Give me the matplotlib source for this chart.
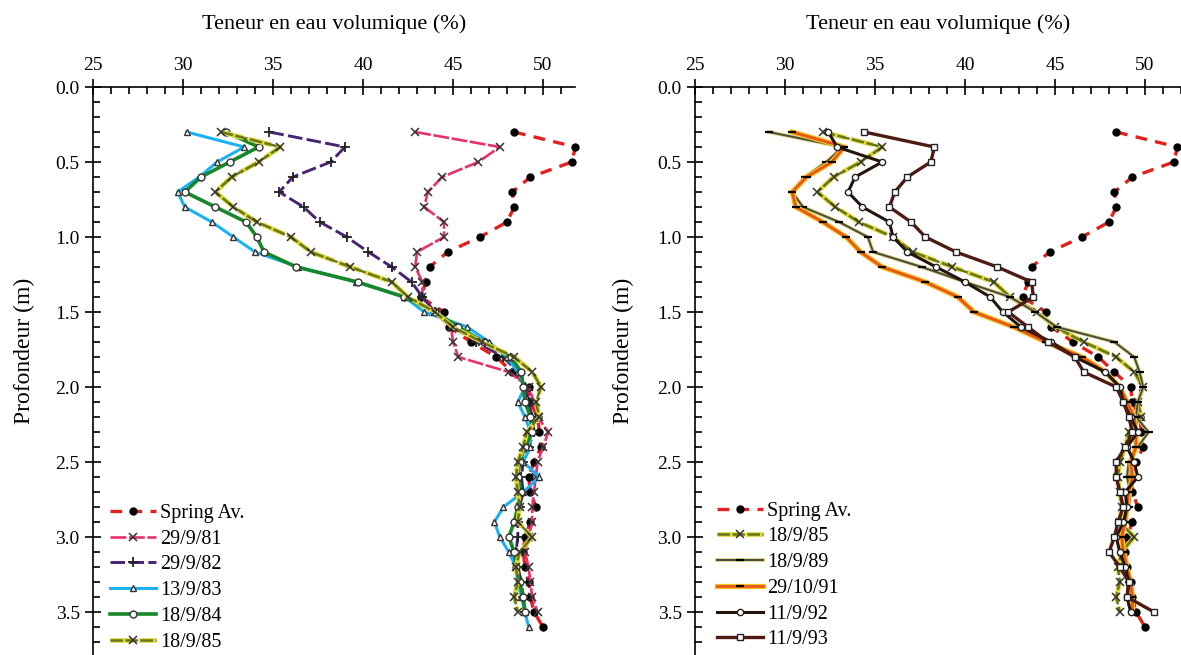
import numpy as np
import matplotlib
matplotlib.use("Agg")
import matplotlib.pyplot as plt
from matplotlib.ticker import MultipleLocator, FormatStrFormatter
from matplotlib.legend_handler import HandlerTuple

plt.rcParams['font.family'] = ['Liberation Serif', 'DejaVu Serif']

# depths (m)
depth = [round(0.3 + 0.1 * i, 1) for i in range(33)]       # 0.3 .. 3.5
depth_long = [round(0.3 + 0.1 * i, 1) for i in range(34)]  # 0.3 .. 3.6

# volumetric water content (%)
spring_av = [48.4, 51.8, 51.6, 49.3, 48.3, 48.4, 48.0, 46.5, 44.7, 43.7,
             43.5, 43.2, 44.5, 44.8, 46.0, 47.4, 48.3, 49.2, 49.3, 49.7,
             49.8, 49.9, 49.5, 49.2, 49.3, 49.6, 49.3, 49.0, 48.9, 49.0,
             49.2, 49.3, 49.5, 50.0]
d_81 = [42.9, 47.6, 46.4, 44.4, 43.6, 43.4, 44.5, 44.5, 43.0, 42.9,
        43.3, 43.3, 43.9, 44.9, 45.0, 45.3, 48.1, 49.2, 49.5, 49.7,
        50.3, 50.0, 49.7, 49.6, 49.5, 49.4, 49.4, 49.2, 49.0, 49.2,
        49.3, 49.4, 49.7]
d_82 = [34.8, 39.0, 38.2, 36.1, 35.35, 36.7, 37.6, 39.1, 40.3, 41.6,
        42.7, 43.3, 44.0, 45.0, 46.3, 47.8, 48.6, 49.0, 49.2, 49.4,
        49.5, 49.2, 48.9, 48.8, 48.9, 48.7, 48.6, 48.6, 48.5, 48.6,
        48.8, 48.9, 49.0]
d_83 = [30.2, 33.4, 31.9, 30.9, 29.7, 30.1, 31.6, 32.8, 34.0, 36.4,
        39.6, 42.3, 43.4, 45.8, 47.0, 48.0, 48.6, 49.0, 48.6, 49.0,
        49.3, 49.3, 48.9, 49.8, 48.9, 47.8, 47.3, 47.6, 48.1, 48.5,
        48.6, 48.8, 49.0, 49.2]
d_84 = [32.4, 34.2, 32.6, 31.0, 30.1, 31.8, 33.5, 34.1, 34.5, 36.3,
        39.7, 42.3, 44.0, 45.3, 46.7, 48.2, 48.8, 48.9, 49.0, 49.3,
        49.4, 49.0, 48.7, 48.6, 48.8, 48.6, 48.4, 48.1, 48.4, 48.5,
        48.7, 48.9, 49.0]
d_85 = [32.1, 35.4, 34.2, 32.7, 31.8, 32.8, 34.1, 36.0, 37.1, 39.3,
        41.6, 42.5, 44.0, 45.0, 46.6, 48.4, 49.4, 49.9, 49.6, 49.8,
        49.1, 48.9, 48.6, 48.5, 48.6, 48.7, 48.6, 49.4, 48.7, 48.5,
        48.6, 48.4, 48.6]
d_89 = [29.1, 33.2, 32.3, 31.1, 30.4, 31.0, 33.0, 34.6, 34.9, 37.6,
        40.0, 42.5, 43.9, 45.1, 48.3, 49.4, 49.7, 49.9, 49.6, 49.5,
        50.2, 49.6, 49.1, 49.0, 49.2, 49.1, 48.8, 48.7, 48.9, 49.0,
        49.1, 49.2, 49.3]
d_91 = [30.4, 33.3, 32.6, 31.2, 30.4, 30.6, 32.1, 33.4, 34.2, 35.4,
        37.8, 39.6, 40.5, 42.7, 44.5, 46.5, 47.8, 48.6, 49.0, 49.4,
        49.5, 49.5, 49.2, 49.3, 49.1, 49.0, 48.9, 48.7, 48.8, 49.0,
        49.2, 49.3, 49.3]
d_92 = [32.4, 32.9, 35.4, 33.9, 33.5, 34.3, 35.8, 36.0, 36.8, 38.4,
        40.0, 41.4, 42.1, 43.1, 44.8, 46.1, 47.8, 48.6, 48.8, 49.2,
        49.6, 49.0, 49.4, 49.6, 48.9, 49.0, 48.8, 48.4, 48.6, 48.9,
        49.1, 49.0, 49.2]
d_93 = [34.4, 38.3, 38.1, 36.8, 36.1, 35.8, 37.0, 37.8, 39.5, 41.8,
        43.7, 43.8, 42.4, 43.5, 44.6, 46.1, 46.6, 48.4, 48.8, 49.1,
        49.3, 48.9, 48.4, 48.4, 48.6, 48.8, 48.5, 48.3, 48.0, 48.6,
        49.1, 49.0, 50.5]

W, H = 1181, 655
fig = plt.figure(figsize=(W / 100, H / 100), dpi=100)

ax_top = 87
ax_h = H - ax_top
px_per_m = 150
px_per_unit = 18.0


def setup_axis(ax, left_px, right_px, label_x):
    ax.set_xlim(25, 25 + (right_px - left_px) / px_per_unit)
    ax.set_ylim(ax_h / px_per_m, 0)
    ax.xaxis.tick_top()
    ax.xaxis.set_label_position('top')
    ax.xaxis.set_major_locator(MultipleLocator(5))
    ax.xaxis.set_minor_locator(MultipleLocator(1))
    ax.yaxis.set_major_locator(MultipleLocator(0.5))
    ax.yaxis.set_minor_locator(MultipleLocator(0.1))
    ax.yaxis.set_major_formatter(FormatStrFormatter('%.1f'))
    ax.tick_params(which='major', direction='inout', length=11, width=1.2,
                   labelsize=14, pad=4)
    ax.tick_params(which='minor', direction='in', length=5, width=1.2)
    ax.spines['bottom'].set_visible(False)
    ax.spines['right'].set_visible(False)
    ax.spines['top'].set_linewidth(1.2)
    ax.spines['left'].set_linewidth(1.2)
    ax.set_xlabel('Teneur en eau volumique (%)', fontsize=16, labelpad=20)
    ax.set_ylabel('Profondeur (m)', fontsize=17)
    ax.yaxis.set_label_coords(label_x, 0.535)


def halo_line(ax, x, y, halo_color, halo_lw, **kw):
    # pale under-stroke like the misregistered colour of the scan
    h, = ax.plot(x, y, color=halo_color, lw=halo_lw,
                 linestyle=kw.get('linestyle', '-'))
    m, = ax.plot(x, y, **kw)
    return (h, m)


def spring(ax):
    line, = ax.plot(spring_av, depth_long, color='#e3201c', lw=2.4,
                    linestyle=(0, (3.5, 2.5)), marker='o', ms=5,
                    mfc='black', mec='black', clip_on=False)
    return line


leg_kw = dict(loc='upper left', frameon=False, fontsize=14.5,
              handlelength=2.3, handletextpad=0.2, labelspacing=0.33,
              borderaxespad=0, borderpad=0,
              handler_map={tuple: HandlerTuple(ndivide=1)})

# ---- left panel ----
l0, r0 = 93, 575
ax1 = fig.add_axes([l0 / W, 0, (r0 - l0) / W, ax_h / H])
setup_axis(ax1, l0, r0, -0.12)
h_sp = spring(ax1)
h81, = ax1.plot(d_81, depth, color='#e8306e', lw=1.9, linestyle=(0, (6, 1)),
                marker='x', ms=6, mec='#333333', mew=1.1)
h82, = ax1.plot(d_82, depth, color='#4a2272', lw=2.1,
                linestyle=(0, (5, 1.5)), marker='+', ms=7, mec='#222222',
                mew=1.3)
h83, = ax1.plot(d_83, depth_long, color='#1cb2f2', lw=2.2, marker='^', ms=5,
                mfc='white', mec='#333333', mew=1.0)
h84, = ax1.plot(d_84, depth, color='#17882a', lw=2.6, marker='o', ms=5,
                mfc='white', mec='#333333', mew=1.0)
h85 = halo_line(ax1, d_85, depth, '#e3d83c', 3.4, color='#66781a', lw=1.8,
                linestyle=(0, (5, 1)), marker='x', ms=6, mec='#333333',
                mew=1.1)
ax1.legend([h_sp, h81, h82, h83, h84, h85],
           ['Spring Av.', '29/9/81', '29/9/82', '13/9/83', '18/9/84',
            '18/9/85'],
           bbox_to_anchor=(0.035, 0.266), **leg_kw)

# ---- right panel ----
l1, r1 = 695, W
ax2 = fig.add_axes([l1 / W, 0, (r1 - l1) / W, ax_h / H])
setup_axis(ax2, l1, r1, -0.125)
h_sp2 = spring(ax2)
h85b = halo_line(ax2, d_85, depth, '#e3d83c', 3.4, color='#66781a', lw=1.8,
                 linestyle=(0, (5, 1)), marker='x', ms=6, mec='#333333',
                 mew=1.1)
h89 = halo_line(ax2, d_89, depth, '#d9cf60', 2.6, color='#4a4a4a', lw=1.4,
                marker='_', ms=6, mec='black', mew=1.6)
h91 = halo_line(ax2, d_91, depth, '#f2c21e', 3.8, color='#e8561a', lw=2.0,
                marker='_', ms=6, mec='black', mew=1.6)
h92, = ax2.plot(d_92, depth, color='#24140e', lw=2.2, marker='o', ms=4.5,
                mfc='white', mec='#222222', mew=1.0)
h93, = ax2.plot(d_93, depth, color='#4e1a12', lw=2.4, marker='s', ms=5,
                mfc='white', mec='#222222', mew=1.0)
ax2.legend([h_sp2, h85b, h89, h91, h92, h93],
           ['Spring Av.', '18/9/85', '18/9/89', '29/10/91', '11/9/92',
            '11/9/93'],
           bbox_to_anchor=(0.045, 0.27), **leg_kw)

fig.savefig('out.png', dpi=100)
